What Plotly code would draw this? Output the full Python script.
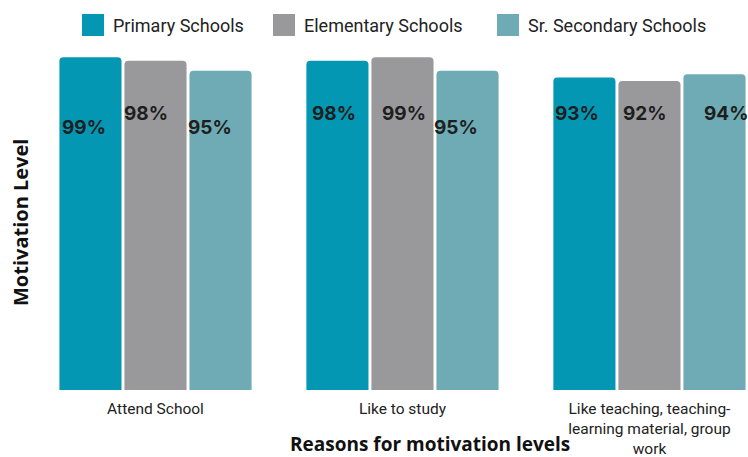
import plotly.graph_objects as go

# Reasons for motivation and the share of students motivated, by school type
categories = [
    "Attend School",
    "Like to study",
    "Like teaching, teaching-<br>learning material, group<br>work",
]
series_names = ["Primary Schools", "Elementary Schools", "Sr. Secondary Schools"]
primary = [99, 98, 93]
elementary = [98, 99, 92]
sr_secondary = [95, 95, 94]

colors = ["#0497b3", "#99999b", "#6eabb4"]
values = [primary, elementary, sr_secondary]

W, H = 748, 457
M_L, M_R, M_T, M_B = 32, 0, 54, 67
PLOT_W = W - M_L - M_R
PLOT_H = H - M_T - M_B


def px_x(px):
    return (px - M_L) / PLOT_W


def px_y(py):
    return (H - M_B - py) / PLOT_H


# label placement tweaks (pixel offsets relative to each bar's top / centre)
label_dx = [[-6, -9, -10], [-3, 2, -11], [-7, -4, 12]]
label_dy = [[-70, -53, -57], [-53, -56, -57], [-36, -33, -39]]

fig = go.Figure()
for i, (name, vals, col) in enumerate(zip(series_names, values, colors)):
    fig.add_trace(go.Bar(
        x=categories, y=vals, name=name, showlegend=False,
        marker=dict(color=col, cornerradius=4, line=dict(width=0)),
        hoverinfo="skip",
    ))

# value labels, one per bar, anchored to the bar's value
offsets = [-1, 0, 1]
slot_px = 65
for i, vals in enumerate(values):
    for j, v in enumerate(vals):
        fig.add_annotation(
            x=categories[j], y=v, xref="x", yref="y",
            text=f"<b>{v}%</b>", showarrow=False,
            xshift=offsets[i] * slot_px + label_dx[j][i],
            yshift=label_dy[j][i],
            font=dict(family="Inter, Arial, sans-serif", size=19, color="#1e1e1e"),
        )

# legend drawn as swatches + labels along the top
legend_font = dict(family="Roboto, sans-serif", size=18, color="#222")
swatch_left = [82, 273, 497]
for name, col, sx in zip(series_names, colors, swatch_left):
    fig.add_shape(
        type="rect", xref="paper", yref="paper",
        x0=px_x(sx), x1=px_x(sx + 22), y0=px_y(36), y1=px_y(14),
        fillcolor=col, line=dict(width=0),
    )
    fig.add_annotation(
        text=name, xref="paper", yref="paper",
        x=px_x(sx + 29), y=px_y(25), xanchor="left", yanchor="middle",
        showarrow=False, font=legend_font,
    )

title_font = dict(family="Open Sans, Arial, sans-serif", size=19, color="#111")
fig.add_annotation(
    text="<b>Reasons for motivation levels</b>", xref="paper", yref="paper",
    x=px_x(430), y=px_y(444), xanchor="center", yanchor="middle", showarrow=False,
    font=title_font,
)
fig.add_annotation(
    text="<b>Motivation Level</b>", xref="paper", yref="paper",
    x=px_x(20), y=px_y(223), xanchor="center", yanchor="middle", showarrow=False,
    textangle=-90, font=dict(title_font, size=20),
)

fig.update_layout(
    width=W, height=H,
    margin=dict(l=M_L, r=M_R, t=M_T, b=M_B, autoexpand=False),
    paper_bgcolor="white", plot_bgcolor="white",
    barmode="group", bargap=0.21, bargroupgap=0.045,
    showlegend=False,
    xaxis=dict(
        range=[-0.5, 2.399], showgrid=False, showline=False, ticks="",
        ticklabelstandoff=7, automargin=False,
        tickfont=dict(family="Roboto, sans-serif", size=15.5, color="#222"),
        fixedrange=True,
    ),
    yaxis=dict(
        range=[0, 100], showgrid=False, showline=False, showticklabels=False,
        zeroline=False, ticks="", automargin=False,
    ),
)

fig.write_html("out.html")
